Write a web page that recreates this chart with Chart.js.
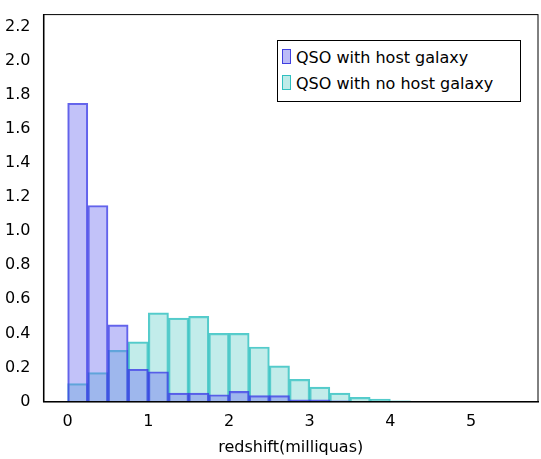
<!DOCTYPE html>
<html><head><meta charset="utf-8">
<script src="https://cdn.jsdelivr.net/npm/chart.js"></script>
<style>
body{margin:0;background:#fff;font-family:"DejaVu Sans",sans-serif}
#wrap{position:relative;width:541px;height:459px}
#leg{position:absolute;left:277px;top:40px;width:244px;height:62px;border:1px solid #000;background:#fff;font-size:16px;line-height:26px;padding:4px 0 0 4px;box-sizing:border-box}
.sw{display:inline-block;width:7px;height:13px;margin-right:5px;vertical-align:-1px}
</style></head><body>
<div id="wrap"><canvas id="c" width="541" height="459"></canvas>
<div id="leg"><div><span class="sw" style="background:rgba(120,120,240,.5);border:1px solid #4040e0"></span>QSO with host galaxy</div>
<div><span class="sw" style="background:rgba(110,210,205,.45);border:1px solid #30c0c0"></span>QSO with no host galaxy</div></div></div>
<script>
Chart.defaults.font.family = "DejaVu Sans";
var binStarts = [0,0.25,0.5,0.75,1,1.25,1.5,1.75,2,2.25,2.5,2.75,3,3.25,3.5,3.75,4,4.25];
var hostVals = [1.75,1.15,0.45,0.19,0.175,0.05,0.05,0.04,0.06,0.035,0.035,0.01,0.01,0.005,0,0,0,0];
var noHostVals = [0.105,0.17,0.30,0.35,0.52,0.49,0.50,0.40,0.40,0.32,0.21,0.13,0.085,0.05,0.025,0.015,0.005,0];
var xTicks = [0,1,2,3,4,5];
var yTicks = [0,0.2,0.4,0.6,0.8,1.0,1.2,1.4,1.6,1.8,2.0,2.2];
function pts(v){return binStarts.map(function(s,i){return {x:s+0.125,y:v[i]};});}
new Chart(document.getElementById("c"), {
  type: "bar",
  data: { datasets: [
    { label:"QSO with no host galaxy", data: pts(noHostVals), backgroundColor:"rgba(110,210,205,.42)", borderColor:"rgba(40,190,190,.8)", borderWidth:1.5, order:2 },
    { label:"QSO with host galaxy", data: pts(hostVals), backgroundColor:"rgba(110,110,240,.42)", borderColor:"rgba(60,60,230,.8)", borderWidth:1.5, order:1 }
  ]},
  options: {
    responsive:false, animation:false,
    layout:{padding:{top:5,right:3,left:0,bottom:0}},
    datasets:{bar:{barPercentage:1,categoryPercentage:1,grouped:false}},
    plugins:{legend:{display:false},tooltip:{enabled:false}},
    scales:{
      x:{type:"linear",min:-0.3,max:5.83,offset:false,
        afterBuildTicks:function(s){s.ticks=xTicks.map(function(v){return {value:v};});},
        ticks:{color:"#000",font:{size:16},padding:3,callback:function(v){return v;}},
        grid:{display:false},border:{color:"#000",width:1.5},
        title:{display:true,text:"redshift(milliquas)",color:"#000",font:{size:16},padding:{top:3,bottom:2}}},
      y:{min:0,max:2.27,
        afterBuildTicks:function(s){s.ticks=yTicks.map(function(v){return {value:v};});},
        ticks:{color:"#000",font:{size:16},padding:5,callback:function(v){return v===0?"0":v.toFixed(1);}},
        grid:{display:false},border:{color:"#000",width:1.5}}
    }
  },
  plugins:[{id:"frame",afterDraw:function(ch){var a=ch.chartArea,c=ch.ctx;c.save();c.strokeStyle="#000";c.lineWidth=1;c.strokeRect(a.left,a.top,a.right-a.left,a.bottom-a.top);c.restore();}}]
});
</script></body></html>
